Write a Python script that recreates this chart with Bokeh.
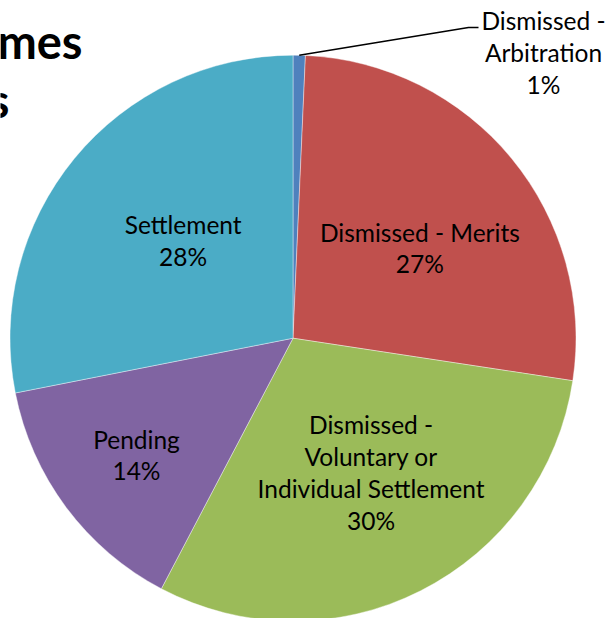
import math
from bokeh.plotting import figure
from bokeh.models import Range1d, ColumnDataSource
from bokeh.core.properties import value
from bokeh.embed import file_html
from bokeh.resources import INLINE

# ---- data ----
categories = ["Dismissed - Arbitration", "Dismissed - Merits",
              "Dismissed - Voluntary or Individual Settlement", "Pending", "Settlement"]
label_lines = ["Dismissed -\nArbitration", "Dismissed - Merits",
               "Dismissed -\nVoluntary or\nIndividual Settlement", "Pending", "Settlement"]
shares = [0.7, 26.7, 30.3, 14.2, 28.1]
colors = ["#4F81BD", "#C0504D", "#9BBB59", "#8064A2", "#4BACC6"]
title_fragments = ["mes", "s"]

# ---- layout (page pixel coordinates; y flipped into data space) ----
W, H = 606, 618
def Y(ypix):
    return H - ypix

cx, cy = 292.5, Y(337.7)
R = 283.0
label_r = [None, 0.55, 0.55, 0.69, 0.52]
label_nudge = [0, 4.0, -3.3, 0.0, 2.3]   # degrees
FONT = "Lato"
FS = "24.5px"
LH = 1.1

p = figure(width=W, height=H, x_range=Range1d(0, W), y_range=Range1d(0, H),
           output_backend="svg", toolbar_location=None, min_border=0,
           x_axis_type=None, y_axis_type=None)
p.grid.visible = False
p.outline_line_color = None
p.background_fill_color = "white"

total = sum(shares)
starts, ends, mids = [], [], []
acc = 0.0
for s in shares:
    a0 = math.pi / 2 - 2 * math.pi * acc / total
    acc += s
    a1 = math.pi / 2 - 2 * math.pi * acc / total
    starts.append(a0)
    ends.append(a1)
    mids.append((a0 + a1) / 2)

src = ColumnDataSource(dict(start=starts, end=ends, color=colors, cat=categories))
p.wedge(x=cx, y=cy, radius=R, start_angle="start", end_angle="end", direction="clock",
        fill_color="color", line_color="white", line_width=0.4, source=src)

# in-slice labels
lx, ly, lt = [], [], []
for i in range(1, len(shares)):
    ang = mids[i] - math.radians(label_nudge[i])
    lx.append(cx + label_r[i] * R * math.cos(ang))
    ly.append(cy + label_r[i] * R * math.sin(ang))
    lt.append(f"{label_lines[i]}\n{round(shares[i])}%")
p.text(x=lx, y=ly, text=lt, text_align="center", text_baseline="middle",
       text_font=value(FONT), text_font_size=FS, text_color="black",
       text_line_height=LH)

# outside label with leader line for the small slice
ex = cx + R * math.cos(mids[0])
ey = cy + R * math.sin(mids[0])
p.line(x=[ex, 468, 478], y=[ey, Y(27), Y(27)], line_color="black", line_width=1.5)
p.text(x=[543], y=[Y(52)], text=[f"{label_lines[0]}\n{max(1, round(shares[0]))}%"],
       text_align="center", text_baseline="middle", text_font=value(FONT),
       text_font_size=FS, text_color="black", text_line_height=LH)

# clipped title fragments
p.text(x=[82, 9], y=[Y(40), Y(99)], text=title_fragments, text_align="right",
       text_baseline="middle", text_font=value(FONT), text_font_style="bold",
       text_font_size="47px", text_color="black")

open("out.html", "w").write(file_html(p, INLINE))
